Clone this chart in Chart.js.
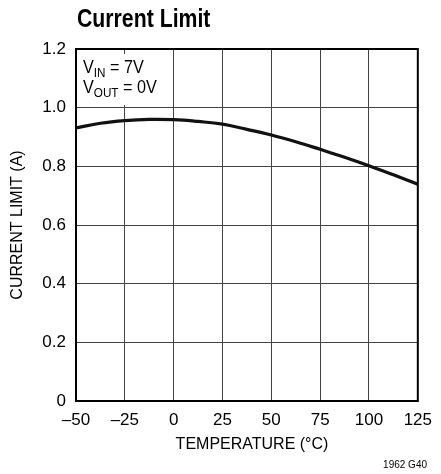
<!DOCTYPE html>
<html>
<head>
<meta charset="utf-8">
<script src="https://cdn.jsdelivr.net/npm/chart.js@4"></script>
<style>
  html, body { margin: 0; padding: 0; background: #fff; }
  #wrap { width: 441px; height: 474px; }
</style>
</head>
<body>
<div id="wrap"><canvas id="limitChart" width="441" height="474"></canvas></div>
<script>
const temperature = [-50, -37.5, -25, -12.5, 0, 12.5, 25, 37.5, 50, 62.5, 75, 87.5, 100, 112.5, 125];
const currentLimit = [0.931, 0.947, 0.956, 0.960, 0.959, 0.953, 0.944, 0.926, 0.907, 0.884, 0.858, 0.831, 0.802, 0.771, 0.739];
const xTicks = [-50, -25, 0, 25, 50, 75, 100, 125];
const yTicks = [0, 0.2, 0.4, 0.6, 0.8, 1.0, 1.2];

const FONT = "'Liberation Sans Narrow', 'Liberation Sans', Arial, sans-serif";

const extras = {
   id: 'extras',
   afterDraw(chart) {
      const c = chart.ctx;
      const a = chart.chartArea;
      c.save();
      // white box behind the conditions
      c.fillStyle = '#fff';
      c.fillRect(a.left + 2, a.top + 5, 76, a.top + 57 - (a.top + 5) - 1);
      // frame
      c.strokeStyle = '#000';
      c.lineWidth = 2;
      c.strokeRect(a.left, a.top, a.right - a.left, a.bottom - a.top);
      c.fillStyle = '#000';
      c.textBaseline = 'alphabetic';
      c.textAlign = 'left';
      // title (narrowed)
      c.save();
      c.translate(77, 27);
      c.scale(0.85, 1);
      c.font = 'bold 25px ' + FONT;
      c.fillText('Current Limit', 0, 0);
      c.restore();
      // conditions
      const line = (y, sub, rest) => {
         c.save();
         c.translate(83, y);
         c.scale(0.9, 1);
         c.font = '18px ' + FONT;
         c.fillText('V', 0, 0);
         let x = c.measureText('V').width;
         c.font = '13px ' + FONT;
         c.fillText(sub, x, 4);
         x += c.measureText(sub).width;
         c.font = '18px ' + FONT;
         c.fillText(rest, x, 0);
         c.restore();
      };
      line(73, 'IN', ' = 7V');
      line(93, 'OUT', ' = 0V');
      // axis titles
      c.font = '16px ' + FONT;
      c.textAlign = 'center';
      c.fillText('TEMPERATURE (°C)', 252, 449);
      c.translate(22, 225);
      c.rotate(-Math.PI / 2);
      c.fillText('CURRENT LIMIT (A)', 0, 0);
      c.restore();
      c.save();
      c.font = '10px ' + FONT;
      c.textAlign = 'right';
      c.fillStyle = '#000';
      c.fillText('1962 G40', 427, 468);
      c.restore();
   }
};

new Chart(document.getElementById('limitChart').getContext('2d'), {
   type: 'line',
   data: {
      datasets: [{
         label: 'Current Limit',
         data: temperature.map((t, i) => ({ x: t, y: currentLimit[i] })),
         borderColor: '#111',
         borderWidth: 3.2,
         pointRadius: 0,
         tension: 0.4,
         fill: false
      }]
   },
   options: {
      responsive: false,
      animation: false,
      layout: { padding: { top: 49, right: 13, left: 0, bottom: 0 } },
      plugins: {
         legend: { display: false },
         tooltip: { enabled: false }
      },
      scales: {
         x: {
            type: 'linear',
            min: -50,
            max: 125,
            afterFit: s => { s.height = 73; },
            afterBuildTicks: s => { s.ticks = xTicks.map(v => ({ value: v })); },
            grid: { color: '#444', lineWidth: 1, drawTicks: false },
            border: { display: false },
            ticks: {
               padding: 9,
               color: '#000',
               font: { family: FONT, size: 17 },
               callback: v => String(v).replace('-', '\u2013')
            }
         },
         y: {
            min: 0,
            max: 1.2,
            afterFit: s => { s.width = 76; },
            afterBuildTicks: s => { s.ticks = yTicks.map(v => ({ value: v })); },
            grid: { color: '#444', lineWidth: 1, drawTicks: false },
            border: { display: false },
            ticks: {
               padding: 10,
               color: '#000',
               font: { family: FONT, size: 17 },
               callback: v => v === 0 ? '0' : v.toFixed(1)
            }
         }
      }
   },
   plugins: [extras]
});
</script>
</body>
</html>
